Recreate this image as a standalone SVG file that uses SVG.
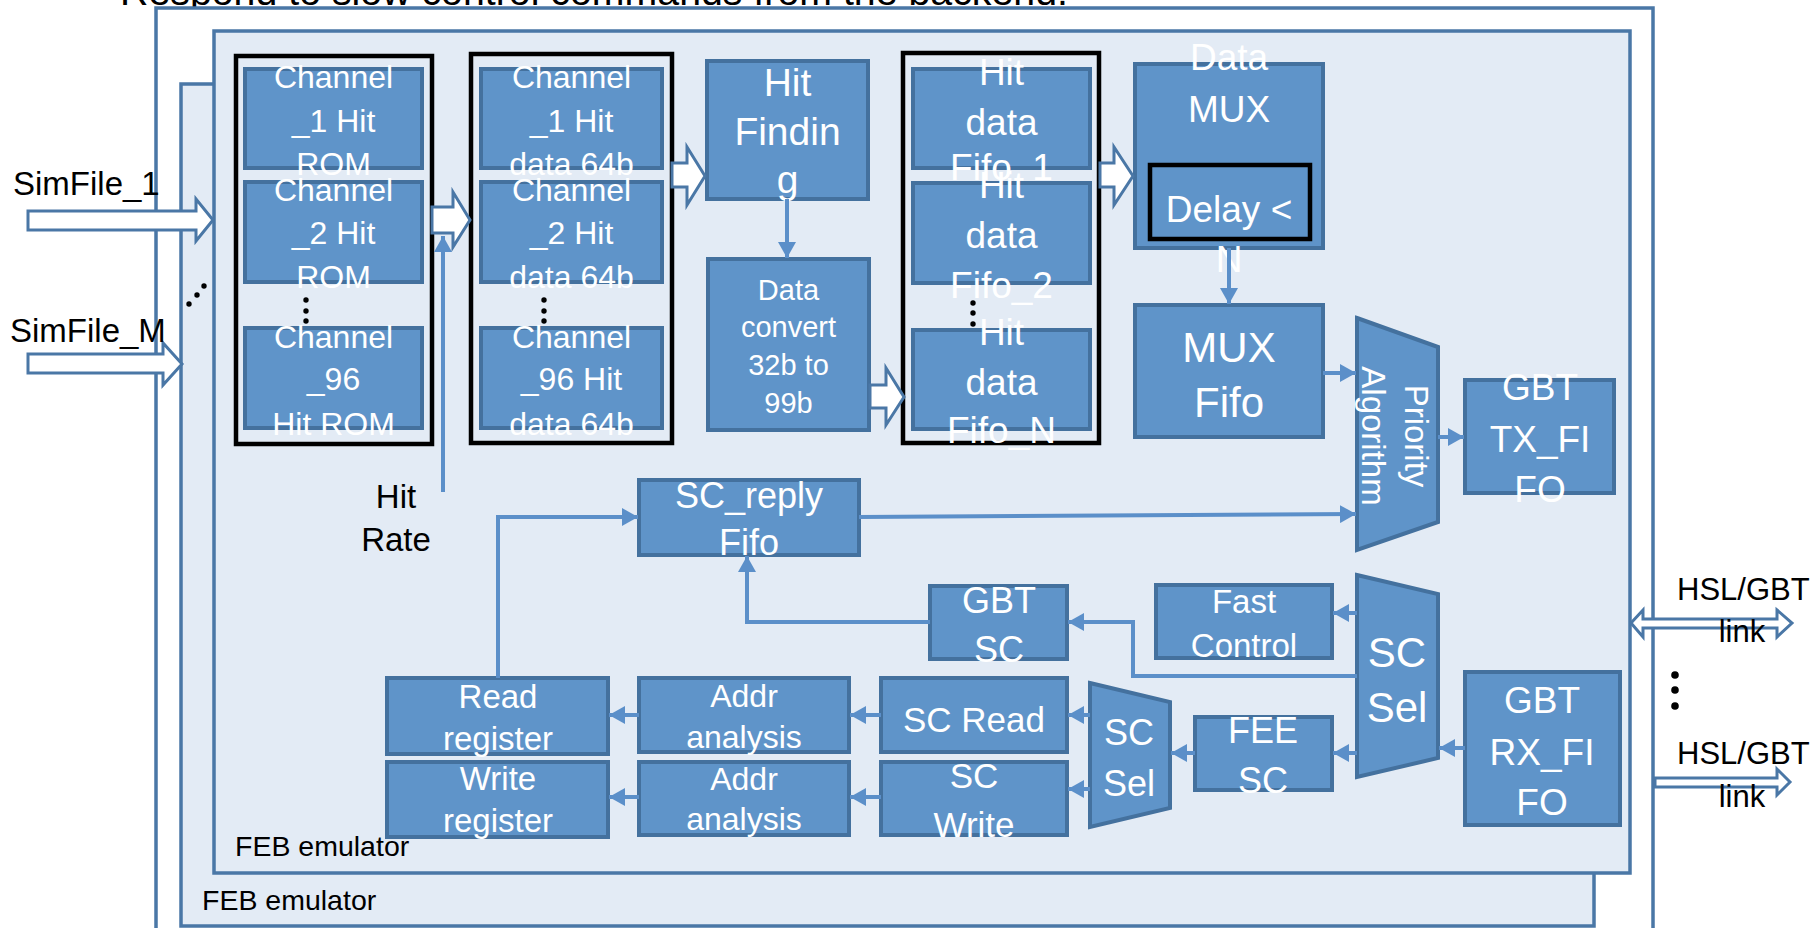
<svg xmlns="http://www.w3.org/2000/svg" width="1820" height="928" viewBox="0 0 1820 928">
<defs>
<style>
.frame{stroke:#4A77A6;stroke-width:3.5}
.box{fill:#5F94C9;stroke:#44719E;stroke-width:4}
.blk{fill:none;stroke:#000;stroke-width:4.5}
.ba{fill:#fff;stroke:#4A77A6;stroke-width:3;stroke-linejoin:miter}
.wt{font-family:"Liberation Sans",Arial,sans-serif;fill:#fff;text-anchor:middle}
.bt{font-family:"Liberation Sans",Arial,sans-serif;fill:#000}
.con{fill:none;stroke:#5B8FC9;stroke-width:4;marker-end:url(#ah)}
.dot{fill:#000}
</style>
<marker id="ah" markerUnits="userSpaceOnUse" markerWidth="18" markerHeight="18" refX="16" refY="9" orient="auto">
<path d="M0,0 L16,9 L0,18 z" fill="#5B8FC9"/>
</marker>
</defs>
<rect width="1820" height="928" fill="#fff"/>
<text class="bt" x="120" y="5" font-size="39.3">Respond to slow control commands from the backend.</text>

<g id="frames">
<rect class="frame" x="156" y="8" width="1497" height="940" fill="#fff"/>
<rect class="frame" x="181" y="84" width="1413" height="842" fill="#E3EBF5"/>
<rect class="frame" x="214" y="31" width="1416" height="842" fill="#E3EBF5"/>
<text class="bt" x="235" y="856" font-size="28.5">FEB emulator</text>
<text class="bt" x="202" y="910" font-size="28.5">FEB emulator</text>
</g>

<g id="inputs">
<polygon class="ba" points="28,211 196,211 196,199 213,220 196,241 196,230 28,230"/>
<polygon class="ba" points="28,354 163,354 163,343 182,364 163,385 163,373 28,373"/>
<text class="bt" x="13" y="195" font-size="33">SimFile_1</text>
<text class="bt" x="10" y="342" font-size="33">SimFile_M</text>
<circle class="dot" cx="189" cy="304" r="2.7"/>
<circle class="dot" cx="197" cy="295" r="2.7"/>
<circle class="dot" cx="204" cy="286" r="2.7"/>
</g>

<g id="rom-group">
<rect class="blk" x="236" y="56" width="196" height="388"/>
<g id="rom1"><rect class="box" x="245" y="69" width="177" height="99"/>
<text class="wt" font-size="32"><tspan x="333.5" y="88">Channel</tspan><tspan x="333.5" y="132">_1 Hit</tspan><tspan x="333.5" y="175">ROM</tspan></text></g>
<g id="rom2"><rect class="box" x="245" y="182" width="177" height="100"/>
<text class="wt" font-size="32"><tspan x="333.5" y="201">Channel</tspan><tspan x="333.5" y="244">_2 Hit</tspan><tspan x="333.5" y="288">ROM</tspan></text></g>
<g id="rom96"><rect class="box" x="245" y="328" width="177" height="100"/>
<text class="wt" font-size="32"><tspan x="333.5" y="348">Channel</tspan><tspan x="333.5" y="390">_96</tspan><tspan x="333.5" y="435">Hit ROM</tspan></text></g>
<circle class="dot" cx="306" cy="300" r="2.7"/><circle class="dot" cx="306" cy="311" r="2.7"/><circle class="dot" cx="306" cy="321" r="2.7"/>
</g>

<g id="data-group">
<rect class="blk" x="471" y="54" width="201" height="389"/>
<g id="data1"><rect class="box" x="481" y="69" width="181" height="99"/>
<text class="wt" font-size="32"><tspan x="571.5" y="88">Channel</tspan><tspan x="571.5" y="132">_1 Hit</tspan><tspan x="571.5" y="175">data 64b</tspan></text></g>
<g id="data2"><rect class="box" x="481" y="182" width="181" height="100"/>
<text class="wt" font-size="32"><tspan x="571.5" y="201">Channel</tspan><tspan x="571.5" y="244">_2 Hit</tspan><tspan x="571.5" y="288">data 64b</tspan></text></g>
<g id="data96"><rect class="box" x="481" y="328" width="181" height="100"/>
<text class="wt" font-size="32"><tspan x="571.5" y="348">Channel</tspan><tspan x="571.5" y="390">_96 Hit</tspan><tspan x="571.5" y="435">data 64b</tspan></text></g>
<circle class="dot" cx="544" cy="300" r="2.7"/><circle class="dot" cx="544" cy="311" r="2.7"/><circle class="dot" cx="544" cy="321" r="2.7"/>
</g>

<g id="hit-finding"><rect class="box" x="707" y="61" width="161" height="138"/>
<text class="wt" font-size="39"><tspan x="787.5" y="96">Hit</tspan><tspan x="787.5" y="145">Findin</tspan><tspan x="787.5" y="193">g</tspan></text></g>

<g id="data-convert"><rect class="box" x="708" y="259" width="161" height="171"/>
<text class="wt" font-size="29"><tspan x="788.5" y="300">Data</tspan><tspan x="788.5" y="337">convert</tspan><tspan x="788.5" y="375">32b to</tspan><tspan x="788.5" y="413">99b</tspan></text></g>

<g id="fifo-group">
<rect class="blk" x="903" y="53" width="196" height="390"/>
<g id="fifo1"><rect class="box" x="913" y="69" width="177" height="99"/>
<text class="wt" font-size="37"><tspan x="1001.5" y="85">Hit</tspan><tspan x="1001.5" y="135">data</tspan><tspan x="1001.5" y="180">Fifo_1</tspan></text></g>
<g id="fifo2"><rect class="box" x="913" y="183" width="177" height="100"/>
<text class="wt" font-size="37"><tspan x="1001.5" y="198">Hit</tspan><tspan x="1001.5" y="248">data</tspan><tspan x="1001.5" y="298">Fifo_2</tspan></text></g>
<g id="fifoN"><rect class="box" x="913" y="330" width="177" height="99"/>
<text class="wt" font-size="37"><tspan x="1001.5" y="345">Hit</tspan><tspan x="1001.5" y="395">data</tspan><tspan x="1001.5" y="443">Fifo_N</tspan></text></g>
<circle class="dot" cx="973" cy="303" r="2.7"/><circle class="dot" cx="973" cy="313" r="2.7"/><circle class="dot" cx="973" cy="324" r="2.7"/>
</g>

<g id="data-mux"><rect class="box" x="1135" y="64" width="188" height="184"/>
<text class="wt" font-size="37"><tspan x="1229" y="70">Data</tspan><tspan x="1229" y="122">MUX</tspan></text>
<rect x="1150" y="165" width="160" height="74" fill="#5F94C9" stroke="#000" stroke-width="4.5"/>
<text class="wt" font-size="37"><tspan x="1229" y="222">Delay &lt;</tspan><tspan x="1229" y="272">N</tspan></text></g>

<g id="mux-fifo"><rect class="box" x="1135" y="305" width="188" height="132"/>
<text class="wt" font-size="42"><tspan x="1229" y="362">MUX</tspan><tspan x="1229" y="417">Fifo</tspan></text></g>

<g id="priority"><polygon class="box" points="1357,318 1438,347 1438,522 1357,550"/>
<text class="wt" font-size="33" transform="translate(1396,436) rotate(90)"><tspan x="0" y="-9">Priority</tspan><tspan x="0" y="34">Algorithm</tspan></text></g>

<g id="gbt-tx"><rect class="box" x="1465" y="380" width="149" height="113"/>
<text class="wt" font-size="37"><tspan x="1540" y="400">GBT</tspan><tspan x="1540" y="452">TX_FI</tspan><tspan x="1540" y="502">FO</tspan></text></g>

<g id="sc-reply"><rect class="box" x="639" y="480" width="220" height="75"/>
<text class="wt" font-size="36"><tspan x="749" y="508">SC_reply</tspan><tspan x="749" y="555">Fifo</tspan></text></g>

<g id="gbt-sc"><rect class="box" x="930" y="586" width="137" height="73"/>
<text class="wt" font-size="36"><tspan x="999" y="613">GBT</tspan><tspan x="999" y="662">SC</tspan></text></g>

<g id="fast-control"><rect class="box" x="1156" y="585" width="176" height="73"/>
<text class="wt" font-size="33"><tspan x="1244" y="613">Fast</tspan><tspan x="1244" y="657">Control</tspan></text></g>

<g id="sc-sel-main"><polygon class="box" points="1357,575 1438,594 1438,758 1357,777"/>
<text class="wt" font-size="42"><tspan x="1397" y="667">SC</tspan><tspan x="1397" y="722">Sel</tspan></text></g>

<g id="gbt-rx"><rect class="box" x="1465" y="672" width="155" height="153"/>
<text class="wt" font-size="37"><tspan x="1542" y="713">GBT</tspan><tspan x="1542" y="765">RX_FI</tspan><tspan x="1542" y="815">FO</tspan></text></g>

<g id="fee-sc"><rect class="box" x="1195" y="717" width="137" height="73"/>
<text class="wt" font-size="36"><tspan x="1263" y="743">FEE</tspan><tspan x="1263" y="793">SC</tspan></text></g>

<g id="sc-sel-small"><polygon class="box" points="1090,683 1170,702 1170,808 1090,827"/>
<text class="wt" font-size="36"><tspan x="1129" y="745">SC</tspan><tspan x="1129" y="796">Sel</tspan></text></g>

<g id="sc-read"><rect class="box" x="881" y="678" width="186" height="74"/>
<text class="wt" font-size="35" x="974" y="732">SC Read</text></g>

<g id="sc-write"><rect class="box" x="881" y="762" width="186" height="73"/>
<text class="wt" font-size="35"><tspan x="974" y="788">SC</tspan><tspan x="974" y="837">Write</tspan></text></g>

<g id="addr-read"><rect class="box" x="639" y="678" width="210" height="74"/>
<text class="wt" font-size="32"><tspan x="744" y="707">Addr</tspan><tspan x="744" y="748">analysis</tspan></text></g>

<g id="addr-write"><rect class="box" x="639" y="762" width="210" height="73"/>
<text class="wt" font-size="32"><tspan x="744" y="790">Addr</tspan><tspan x="744" y="830">analysis</tspan></text></g>

<g id="read-register"><rect class="box" x="387" y="678" width="221" height="76"/>
<text class="wt" font-size="33"><tspan x="498" y="708">Read</tspan><tspan x="498" y="750">register</tspan></text></g>

<g id="write-register"><rect class="box" x="387" y="762" width="221" height="75"/>
<text class="wt" font-size="33"><tspan x="498" y="790">Write</tspan><tspan x="498" y="832">register</tspan></text></g>

<g id="hit-rate">
<text class="bt" font-size="33" text-anchor="middle"><tspan x="396" y="508">Hit</tspan><tspan x="396" y="551">Rate</tspan></text>
</g>

<g id="links">
<polygon class="ba" points="1631,623 1643,610 1643,619 1777,619 1777,610 1792,623 1777,637 1777,628 1643,628 1643,637"/>
<polygon class="ba" points="1655,778 1777,778 1777,769 1790,782 1777,795 1777,787 1655,787"/>
<text class="bt" font-size="31"><tspan x="1677" y="600">HSL/GBT</tspan></text>
<text class="bt" font-size="31" text-anchor="middle"><tspan x="1742" y="642">link</tspan></text>
<text class="bt" font-size="31"><tspan x="1677" y="764">HSL/GBT</tspan></text>
<text class="bt" font-size="31" text-anchor="middle"><tspan x="1742" y="807">link</tspan></text>
<circle class="dot" cx="1675" cy="675" r="3.8"/><circle class="dot" cx="1675" cy="690" r="3.8"/><circle class="dot" cx="1675" cy="706" r="3.8"/>
</g>

<g id="connectors">
<polygon class="ba" points="432,207 453,207 453,192 470,220 453,247 453,233 432,233"/>
<polygon class="ba" points="672,163 687,163 687,147 705,176 687,205 687,187 672,187"/>
<polygon class="ba" points="870,385 886,385 886,368 904,397 886,425 886,408 870,408"/>
<polygon class="ba" points="1100,163 1114,163 1114,147 1133,176 1114,205 1114,187 1100,187"/>
<path class="con" d="M443,492 V236"/>
<path class="con" d="M787,199 V258"/>
<path class="con" d="M1229,248 V304"/>
<path class="con" d="M1323,373 H1356"/>
<path class="con" d="M1438,437 H1464"/>
<path class="con" d="M498,678 V517 H638"/>
<path class="con" d="M859,517 L1356,514"/>
<path class="con" d="M930,622 H747 V556"/>
<path class="con" d="M1357,676 H1133 V622 H1068"/>
<path class="con" d="M1357,613 H1333"/>
<path class="con" d="M1465,748 H1439"/>
<path class="con" d="M1357,753 H1333"/>
<path class="con" d="M1195,753 H1171"/>
<path class="con" d="M1090,715 H1068"/>
<path class="con" d="M1090,789 H1068"/>
<path class="con" d="M881,715 H850"/>
<path class="con" d="M881,797 H850"/>
<path class="con" d="M639,715 H609"/>
<path class="con" d="M639,797 H609"/>
</g>
</svg>
